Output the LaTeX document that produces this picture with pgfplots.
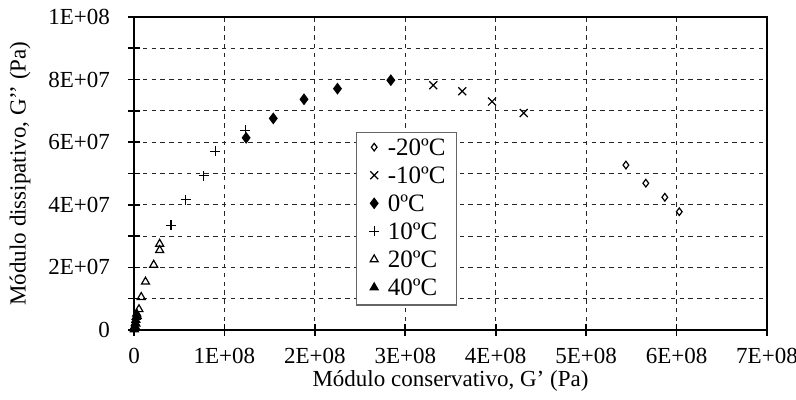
\documentclass[border=0pt]{standalone}
\usepackage{fontspec}
\setmainfont{Liberation Serif}
\usepackage{pgfplots}
\pgfplotsset{compat=1.18}

\newcommand{\legtext}[1]{\makebox[29pt][l]{#1}}

\begin{document}
\fontsize{11.5pt}{13pt}\selectfont
\begin{tikzpicture}
\useasboundingbox (-67pt,-35pt) rectangle (331pt,165pt);
\begin{axis}[
  at={(0,0)}, anchor=south west,
  scale only axis, width=316.5pt, height=156.5pt,
  xmin=0, xmax=7e8, ymin=0, ymax=1e8,
  scaled ticks=false,
  xtick={0,1e8,2e8,3e8,4e8,5e8,6e8,7e8},
  xticklabels={0,1E+08,2E+08,3E+08,4E+08,5E+08,6E+08,7E+08},
  ytick={0,1e7,2e7,3e7,4e7,5e7,6e7,7e7,8e7,9e7,1e8},
  yticklabels={0,{},2E+07,{},4E+07,{},6E+07,{},8E+07,{},1E+08},
  xtick pos=bottom, ytick pos=left,
  tick align=center, major tick length=6pt,
  tick style={black, line width=0.8pt},
  axis line style={black, line width=0.9pt},
  xticklabel style={yshift=-2pt},
  yticklabel style={xshift=-5pt},
  /pgf/number format/assume math mode=true,
  grid=major,
  major grid style={black!85, line width=0.5pt, dash pattern=on 2.2pt off 2.2pt},
  xlabel={Módulo conservativo, G’ (Pa)},
  ylabel={Módulo dissipativo, G’’ (Pa)},
  every axis x label/.style={at={(axis description cs:0.5,-0.163)}, anchor=center},
  every axis y label/.style={at={(axis description cs:-0.180,0.5)}, anchor=center, rotate=90},
  legend style={at={(axis description cs:0.3507,0.6326)}, anchor=north west,
    draw=black!60, line width=0.6pt, fill=white,
    font=\fontsize{12.5pt}{14pt}\selectfont,
    inner xsep=5pt, inner ysep=2pt, row sep=2pt,
    nodes={inner xsep=0.5pt, inner ysep=1pt, anchor=base west}},
  legend cell align=left,
  legend image code/.code={\path (-3.5pt,0pt) (6pt,0pt);
    \draw[#1] plot coordinates {(0pt,0.35em)};},
  every axis plot/.append style={only marks, black, line width=0.6pt},
]
% -20 C
\addplot[mark=diamond, mark size=1.9pt, mark options={fill=white}] coordinates {
  (5.44e8,5.27e7) (5.66e8,4.69e7) (5.87e8,4.24e7) (6.03e8,3.78e7)
};
\addlegendentry{\legtext{-20ºC}}
% -10 C
\addplot[mark=x, mark size=2.8pt] coordinates {
  (3.31e8,7.82e7) (3.63e8,7.63e7) (3.96e8,7.30e7) (4.31e8,6.93e7)
};
\addlegendentry{\legtext{-10ºC}}
% 0 C
\addplot[mark=diamond*, mark size=2.5pt] coordinates {
  (1.24e8,6.14e7) (1.54e8,6.76e7) (1.88e8,7.37e7) (2.25e8,7.71e7) (2.84e8,7.98e7)
};
\addlegendentry{\legtext{0ºC}}
% 10 C
\addplot[mark=+, mark size=2.5pt] coordinates {
  (0.41e8,3.34e7) (0.57e8,4.16e7) (0.77e8,4.93e7) (0.90e8,5.71e7) (1.23e8,6.38e7)
};
\addlegendentry{\legtext{10ºC}}
% 20 C
\addplot[mark=triangle, mark size=2.3pt, mark options={fill=white}] coordinates {
  (0.02e8,0.2e7) (0.035e8,0.45e7) (0.055e8,0.66e7) (0.08e8,1.05e7) (0.127e8,1.54e7)
  (0.218e8,2.08e7) (0.284e8,2.55e7) (0.284e8,2.75e7)
};
\addlegendentry{\legtext{20ºC}}
% 40 C
\addplot[mark=triangle*, mark size=2.3pt] coordinates {
  (0.004e8,0.02e7) (0.007e8,0.07e7) (0.01e8,0.13e7) (0.015e8,0.22e7)
  (0.02e8,0.32e7) (0.025e8,0.42e7) (0.03e8,0.52e7)
};
\addlegendentry{\legtext{40ºC}}
\end{axis}
\end{tikzpicture}
\end{document}
